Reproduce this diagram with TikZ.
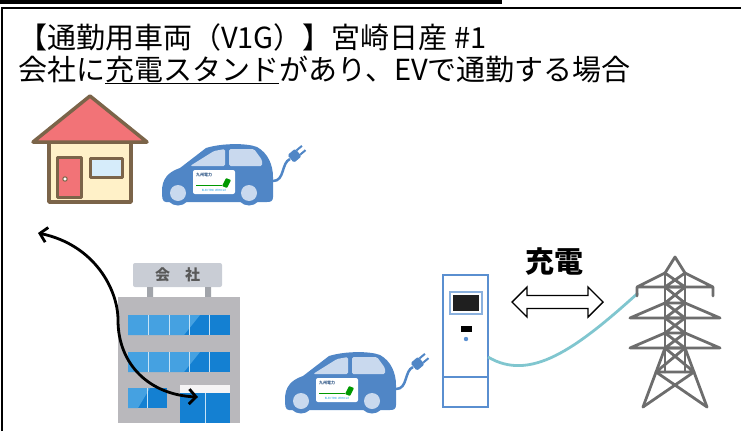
\documentclass[tikz,border=0pt]{standalone}
\usepackage{fontspec}
\setmainfont{Noto Sans CJK JP}
\usepackage{tikz}
\usetikzlibrary{arrows.meta}

\definecolor{roofred}{HTML}{F27377}
\definecolor{wallcream}{HTML}{FFF1C8}
\definecolor{housebrown}{HTML}{7B6449}
\definecolor{skyglass}{HTML}{D6ECFA}
\definecolor{carblue}{HTML}{5086C6}
\definecolor{carglass}{HTML}{C9D9EE}
\definecolor{officegray}{HTML}{B9B8BC}
\definecolor{signgray}{HTML}{C9CDD5}
\definecolor{glassdark}{HTML}{1480D2}
\definecolor{glasslight}{HTML}{45A1E1}
\definecolor{chargerblue}{HTML}{5A8FD0}
\definecolor{cableteal}{HTML}{80C6CF}
\definecolor{towergray}{HTML}{6D6D6D}

% electric car with its charging cable
\tikzset{
  evcar/.pic={
    \fill[carblue] (4,-3) .. controls (0,-3) and (0,-8) .. (0,-14)
      .. controls (0,-26) and (6,-33) .. (18,-37) -- (44,-57)
      .. controls (60,-62) and (85,-62) .. (95,-58)
      .. controls (106,-52) and (111,-40) .. (111,-28) -- (111,-8)
      .. controls (111,-4) and (109,-3) .. (105,-3) -- cycle;
    \fill[carglass, rounded corners=1.5pt] (28,-39) -- (52,-54) -- (63,-56) -- (63,-39) -- cycle;
    \fill[carglass, rounded corners=1.5pt] (67,-39) -- (67,-56) -- (92,-56) -- (100,-45) -- (100,-39) -- cycle;
    % door sticker
    \fill[white, rounded corners=2pt] (31,-35) rectangle (73,-11);
    \node[font=\fontsize{4}{4}\selectfont\bfseries, text=carblue!70!black, inner sep=0] (kyuden) at (42,-30) {九州電力};
    \draw[green!60!black, line width=0.4pt] (34,-20) -- (60,-20);
    \fill[green!60!black, rounded corners=0.8pt] (60,-19) -- (64,-27) -- (69,-25) -- (65,-17) -- cycle;
    \node[font=\fontsize{2.8}{3}\selectfont, text=cyan!80!blue, inner sep=0] (evtag) at (52,-15) {ELECTRIC VEHICLE};
    % wheels
    \foreach \wx in {16,87} {
      \fill[carblue] (\wx,-12) circle (12.5);
      \fill[carglass] (\wx,-12) circle (8);
    }
    % cable and plug
    \draw[carblue, line width=2.5pt] (111,-24) .. controls (123,-24) and (119,-42) .. (128,-46);
    \begin{scope}[shift={(131,-48)}, rotate=40]
      \fill[carblue, rounded corners=1.5pt] (-3,-5) rectangle (7,5);
      \draw[carblue, line width=2pt] (7,-2.8) -- (14,-2.8) (7,2.8) -- (14,2.8);
    \end{scope}
  }
}

\begin{document}
\begin{tikzpicture}[x=1pt, y=-1pt,
    title/.style={font=\fontsize{29}{30}\selectfont, inner sep=0, anchor=base west},
    brownline/.style={draw=housebrown, line width=3.5pt, line join=round},
    pane/.style={draw=white!70!glasslight, line width=0.6pt},
    commute/.style={line width=2.8pt, {Straight Barb[length=7pt,width=15pt]}-{Straight Barb[length=7pt,width=15pt]}},
    tower/.style={draw=towergray, line width=2.8pt, line join=round, line cap=round}]
  \useasboundingbox (0,0) rectangle (741,431);

  % frame
  \fill[black] (0,0) rectangle (502,3.5);
  \draw[line width=1.6pt] (2,431) -- (2,8) -- (741,8);

  \node[title] (head) at (18,48) {【通勤用車両（V1G）】宮崎日産 \#1};
  \node[title] (lead) at (18,80) {会社に\underline{充電スタンド}があり、EVで通勤する場合};

  % house
  \fill[wallcream] (49,142) rectangle (131,202);
  \draw[brownline] (49,142) rectangle (131,202);
  \filldraw[brownline, fill=roofred] (90,96) -- (147,142) -- (33,142) -- cycle;
  \filldraw[brownline, line width=3pt, fill=roofred] (57,157) rectangle (81,197);
  \filldraw[draw=housebrown, fill=white, line width=1pt] (65,179) circle (2.2);
  \filldraw[brownline, line width=3pt, fill=skyglass] (90,158) rectangle (122,177);

  \pic at (162,205) {evcar};

  % office
  \fill[signgray, rounded corners=2pt] (133,263) rectangle (222,287);
  \node[font=\fontsize{15}{15}\selectfont\bfseries, text=black!65] (sign) at (177.5,275) {会　社};
  \fill[signgray!80!black] (147,287) rectangle (153,297) (205,287) rectangle (211,297);
  \fill[officegray] (118,297) rectangle (240,423);
  \foreach \wy in {315,352} {
    \fill[glassdark] (128,\wy) rectangle (230,\wy+20);
    \fill[glasslight] (128,\wy) -- (200,\wy) -- (184,\wy+20) -- (128,\wy+20) -- cycle;
    \foreach \px in {148.4,168.8,189.2,209.6}
      \draw[pane] (\px,\wy) -- (\px,\wy+20);
  }
  \fill[glassdark] (128,388) rectangle (167,408);
  \fill[glasslight] (128,388) -- (150,388) -- (138,408) -- (128,408) -- cycle;
  \draw[pane] (147.5,388) -- (147.5,408);
  \fill[white!85!officegray] (180,385) rectangle (230,393);
  \fill[glassdark] (180,393) rectangle (230,423);
  \draw[pane] (205,393) -- (205,423);

  % commute between home and office
  \coordinate (home) at (38,233);
  \coordinate (office) at (198,397);
  \draw[commute] (home) .. controls (95,245) and (118,290) .. (118,320)
    .. controls (118,365) and (150,395) .. (office);

  \pic at (285,413) {evcar};

  % charging stand
  \filldraw[draw=chargerblue, fill=white, line width=2pt] (443,275) rectangle (488,407);
  \draw[chargerblue, line width=1.5pt] (443,377) -- (488,377);
  \filldraw[draw=chargerblue!70, fill=white, line width=1.5pt] (450,292) rectangle (482,314);
  \fill[black!88] (453,295) rectangle (479,311);
  \fill[black] (461,326) rectangle (472,332);
  \fill[chargerblue] (466,339) circle (2.2);

  % power line to the tower
  \coordinate (plugin) at (488,357);
  \coordinate (towerarm) at (638,293);
  \draw[cableteal, line width=2.8pt] (plugin) .. controls (530,382) and (575,350) .. (towerarm);

  \node[font=\fontsize{29}{30}\selectfont\bfseries, inner sep=0] (charge) at (554,262) {充電};
  \filldraw[draw=black, fill=white, line width=1.4pt, line join=miter]
    (512,302) -- (527,287) -- (527,295.5) -- (588,295.5) -- (588,287) -- (603,302)
    -- (588,317) -- (588,308.5) -- (527,308.5) -- (527,317) -- cycle;

  % transmission tower
  \draw[tower] (665,273) -- (675,257) -- (685,273);
  \draw[tower] (665,273) -- (665,372) (685,273) -- (685,372);
  \draw[tower] (637,296) -- (637,287) -- (713,287) -- (713,296)
    (637,287) -- (665,273) (713,287) -- (685,273);
  \draw[tower] (630,318) -- (720,318) (630,318) -- (665,303) (720,318) -- (685,303);
  \draw[tower] (630,348) -- (720,348) (630,348) -- (665,333) (720,348) -- (685,333);
  \foreach \ya/\yb in {273/287,287/303,303/318,318/333,333/348} {
    \draw[tower] (665,\ya) -- (685,\yb) (685,\ya) -- (665,\yb) (665,\yb) -- (685,\yb);
  }
  \draw[tower] (665,348) -- (643,407) (685,348) -- (707,407);
  \draw[tower] (665,348) -- (694,372) (685,348) -- (656,372) (656,372) -- (694,372);
  \draw[tower] (656,372) -- (707,407) (694,372) -- (643,407);
\end{tikzpicture}
\end{document}
